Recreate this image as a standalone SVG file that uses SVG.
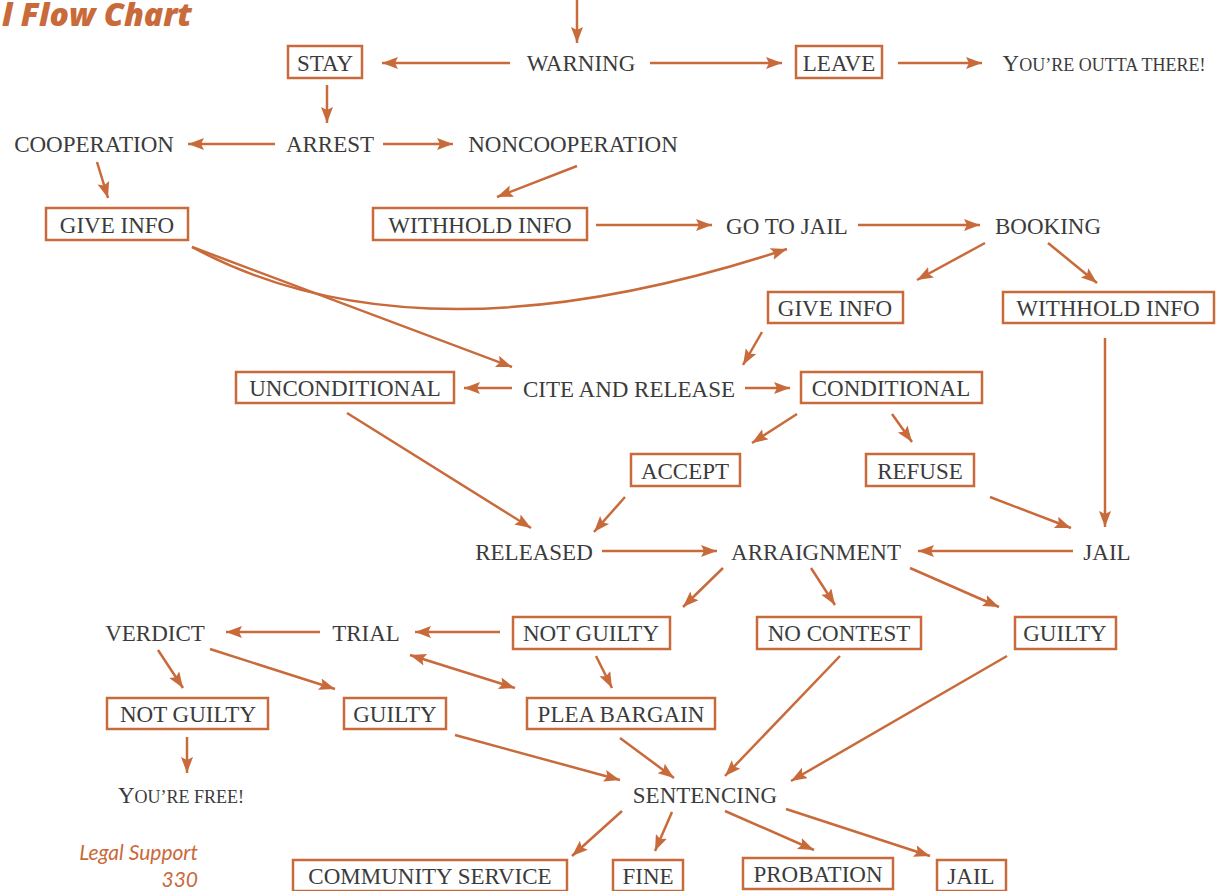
<svg xmlns="http://www.w3.org/2000/svg" width="1220" height="891" viewBox="0 0 1220 891">
<style>
.t{font-family:"Liberation Serif","DejaVu Serif",serif;font-size:23px;fill:#3b3b3b;text-anchor:middle}
.sc{font-size:18px}
.b{fill:#fff;stroke:#c96a3b;stroke-width:2.5}
.c path,.c line{stroke:#c96a3b;stroke-width:2.5;fill:none;marker-end:url(#ah)}
.title{font-family:"Open Sans",Lato,sans-serif;font-weight:800;font-style:italic;font-size:31px;fill:#c96a3b}
.foot{font-family:Lato,"Open Sans",sans-serif;font-style:italic;font-size:21px;fill:#c96a3b;text-anchor:end}
</style>
<defs>
<marker id="ah" markerUnits="userSpaceOnUse" markerWidth="18" markerHeight="14" refX="16" refY="6" orient="auto-start-reverse" viewBox="0 0 18 14">
<path d="M0,0 L16,6 L0,12 L3,6 z" fill="#c96a3b"/>
</marker>
</defs>
<rect width="1220" height="891" fill="#fff"/>
<text class="title" x="2" y="26" textLength="190" lengthAdjust="spacingAndGlyphs">l Flow Chart</text>
<text class="foot" x="198" y="860">Legal Support</text>
<text class="foot" x="198" y="887">330</text>

<g id="connectors" class="c">
<line x1="577" y1="0" x2="577" y2="43"/>
<line x1="510" y1="63" x2="382" y2="63"/>
<line x1="650" y1="63" x2="782" y2="63"/>
<line x1="898" y1="63" x2="982" y2="63"/>
<line x1="327" y1="85" x2="327" y2="123"/>
<line x1="275" y1="144" x2="188" y2="144"/>
<line x1="383" y1="144" x2="453" y2="144"/>
<line x1="97" y1="162" x2="108" y2="198"/>
<line x1="577" y1="166" x2="497" y2="197"/>
<line x1="596" y1="225" x2="712" y2="225"/>
<line x1="858" y1="225" x2="980" y2="225"/>
<path d="M192,247 Q420,370 787,249"/>
<line x1="192" y1="247" x2="512" y2="367"/>
<line x1="985" y1="243" x2="917" y2="280"/>
<line x1="1048" y1="243" x2="1097" y2="283"/>
<line x1="762" y1="332" x2="743" y2="365"/>
<line x1="1105" y1="338" x2="1105" y2="527"/>
<line x1="512" y1="388" x2="464" y2="388"/>
<line x1="745" y1="388" x2="790" y2="388"/>
<line x1="347" y1="413" x2="531" y2="528"/>
<line x1="797" y1="414" x2="752" y2="443"/>
<line x1="892" y1="414" x2="912" y2="442"/>
<line x1="625" y1="497" x2="594" y2="532"/>
<line x1="990" y1="497" x2="1071" y2="528"/>
<line x1="602" y1="551" x2="717" y2="551"/>
<line x1="1073" y1="551" x2="918" y2="551"/>
<line x1="723" y1="568" x2="683" y2="607"/>
<line x1="811" y1="568" x2="835" y2="605"/>
<line x1="910" y1="568" x2="999" y2="607"/>
<line x1="500" y1="632" x2="415" y2="632"/>
<line x1="320" y1="632" x2="226" y2="632"/>
<line x1="410" y1="655" x2="515" y2="688" style="marker-start:url(#ah)"/>
<line x1="596" y1="656" x2="612" y2="688"/>
<line x1="158" y1="650" x2="183" y2="688"/>
<line x1="210" y1="649" x2="335" y2="689"/>
<line x1="187" y1="737" x2="187" y2="773"/>
<line x1="455" y1="735" x2="620" y2="780"/>
<line x1="620" y1="738" x2="674" y2="778"/>
<line x1="840" y1="656" x2="725" y2="776"/>
<line x1="1007" y1="656" x2="791" y2="781"/>
<line x1="622" y1="811" x2="572" y2="856"/>
<line x1="672" y1="812" x2="655" y2="851"/>
<line x1="725" y1="811" x2="814" y2="850"/>
<line x1="786" y1="809" x2="930" y2="856"/>
</g>

<g id="warning"><text class="t" x="581" y="71">WARNING</text></g>
<g id="stay"><rect class="b" x="288" y="46" width="74" height="32"/><text class="t" x="325" y="71">STAY</text></g>
<g id="leave"><rect class="b" x="796" y="46" width="86" height="32"/><text class="t" x="839" y="71">LEAVE</text></g>
<g id="outta"><text class="t" x="1104" y="71">Y<tspan class="sc">OU’RE OUTTA THERE!</tspan></text></g>
<g id="cooperation"><text class="t" x="94" y="152">COOPERATION</text></g>
<g id="arrest"><text class="t" x="330" y="152">ARREST</text></g>
<g id="noncooperation"><text class="t" x="573" y="152">NONCOOPERATION</text></g>
<g id="giveinfo1"><rect class="b" x="46" y="208" width="142" height="32"/><text class="t" x="117" y="233">GIVE INFO</text></g>
<g id="withhold1"><rect class="b" x="373" y="208" width="214" height="32"/><text class="t" x="480" y="233">WITHHOLD INFO</text></g>
<g id="gotojail"><text class="t" x="787" y="234">GO TO JAIL</text></g>
<g id="booking"><text class="t" x="1048" y="234">BOOKING</text></g>
<g id="giveinfo2"><rect class="b" x="768" y="292" width="135" height="31"/><text class="t" x="835" y="316">GIVE INFO</text></g>
<g id="withhold2"><rect class="b" x="1003" y="292" width="211" height="31"/><text class="t" x="1108" y="316">WITHHOLD INFO</text></g>
<g id="unconditional"><rect class="b" x="236" y="372" width="218" height="31"/><text class="t" x="345" y="396">UNCONDITIONAL</text></g>
<g id="cite"><text class="t" x="629" y="397">CITE AND RELEASE</text></g>
<g id="conditional"><rect class="b" x="801" y="372" width="181" height="31"/><text class="t" x="891" y="396">CONDITIONAL</text></g>
<g id="accept"><rect class="b" x="631" y="454" width="109" height="32"/><text class="t" x="685" y="479">ACCEPT</text></g>
<g id="refuse"><rect class="b" x="866" y="454" width="108" height="32"/><text class="t" x="920" y="479">REFUSE</text></g>
<g id="released"><text class="t" x="534" y="560">RELEASED</text></g>
<g id="arraignment"><text class="t" x="816" y="560">ARRAIGNMENT</text></g>
<g id="jail1"><text class="t" x="1107" y="560">JAIL</text></g>
<g id="verdict"><text class="t" x="155" y="641">VERDICT</text></g>
<g id="trial"><text class="t" x="366" y="641">TRIAL</text></g>
<g id="notguilty1"><rect class="b" x="513" y="617" width="157" height="32"/><text class="t" x="591" y="641">NOT GUILTY</text></g>
<g id="nocontest"><rect class="b" x="757" y="617" width="164" height="32"/><text class="t" x="839" y="641">NO CONTEST</text></g>
<g id="guilty1"><rect class="b" x="1015" y="617" width="101" height="32"/><text class="t" x="1065" y="641">GUILTY</text></g>
<g id="notguilty2"><rect class="b" x="107" y="698" width="161" height="31"/><text class="t" x="188" y="722">NOT GUILTY</text></g>
<g id="guilty2"><rect class="b" x="344" y="698" width="102" height="31"/><text class="t" x="395" y="722">GUILTY</text></g>
<g id="plea"><rect class="b" x="527" y="698" width="188" height="31"/><text class="t" x="621" y="722">PLEA BARGAIN</text></g>
<g id="free"><text class="t" x="181" y="803">Y<tspan class="sc">OU’RE FREE!</tspan></text></g>
<g id="sentencing"><text class="t" x="705" y="803">SENTENCING</text></g>
<g id="community"><rect class="b" x="293" y="860" width="274" height="31"/><text class="t" x="430" y="884">COMMUNITY SERVICE</text></g>
<g id="fine"><rect class="b" x="613" y="860" width="70" height="31"/><text class="t" x="648" y="884">FINE</text></g>
<g id="probation"><rect class="b" x="743" y="858" width="150" height="31"/><text class="t" x="818" y="882">PROBATION</text></g>
<g id="jail2"><rect class="b" x="937" y="860" width="69" height="31"/><text class="t" x="971" y="884">JAIL</text></g>
</svg>
